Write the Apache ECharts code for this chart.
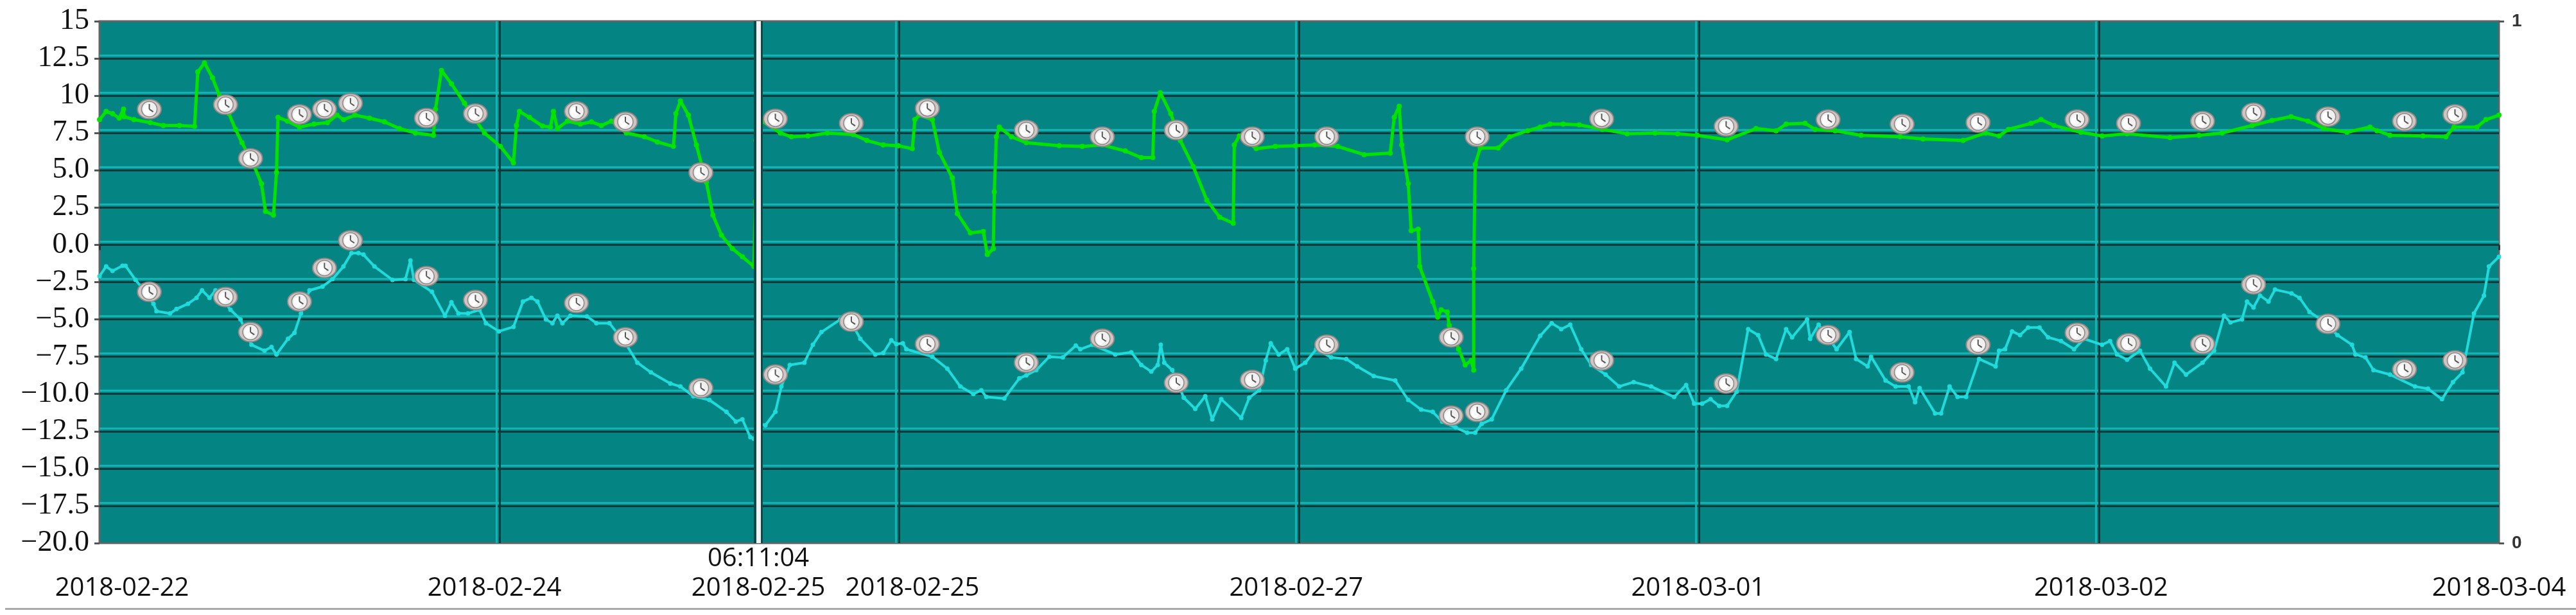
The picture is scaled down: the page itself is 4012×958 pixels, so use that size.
<!DOCTYPE html>
<html><head><meta charset="utf-8">
<style>html,body{margin:0;padding:0;background:#fff}#c{width:4012px;height:958px}</style>
<script src="https://cdn.jsdelivr.net/npm/echarts@6/dist/echarts.min.js"></script>
</head><body><div id="c"></div>
<script>
// x values are hours since the left edge of the chart (about 2018-02-22 12:20)
const greenPoints=[[0,8.4],[0.66,8.95],[1.3,8.8],[1.97,8.5],[2.4,9.1],[2.46,8.6],[3.44,8.4],[5.08,8.2],[6.4,8],[8,8],[9.5,7.95],[9.83,11.6],[10.5,12.2],[11.3,11.2],[12,10],[12.94,8.8],[13.6,7.75],[14.25,6.85],[15.4,5.4],[16.2,4.1],[16.6,2.25],[17.4,2],[17.7,4.85],[17.85,8.55],[18.8,8.3],[20,7.9],[21.45,8.1],[22.8,8.2],[23.75,8.7],[24.4,8.4],[25.55,8.7],[27,8.5],[28.5,8.25],[30,7.8],[31.6,7.5],[33.4,7.35],[33.6,9.1],[34.2,11.7],[35.2,10.8],[36.5,9.5],[38.5,7.5],[40.1,6.6],[41.4,5.5],[41.7,8],[42,8.95],[43,8.55],[44.3,7.97],[45.1,7.9],[45.4,8.95],[45.8,7.8],[46.8,8.3],[48.1,8.1],[49.2,8.25],[50.2,8],[51.2,8.3],[52.7,7.5],[54.5,7.25],[55.8,6.9],[57.4,6.6],[57.65,8.8],[58.1,9.65],[58.9,8.7],[59.7,6.7],[60.7,4.2],[61.35,2],[62.2,0.65],[63.3,-0.25],[64.3,-0.8],[65.45,-1.45],[65.6,2.9],[65.65,7],[66.3,8.3],[68.1,7.5],[69.2,7.25],[70.85,7.3],[72.8,7.5],[75.4,7.4],[76.75,7],[78.4,6.7],[79.9,6.65],[81.3,6.45],[81.55,8.4],[82,8.7],[83.3,8.4],[84,6.2],[85.3,4.5],[85.8,2.1],[87.1,0.8],[88.4,0.9],[88.8,-0.65],[89.4,-0.25],[89.5,3.55],[89.7,7.25],[90,7.9],[91.2,7.25],[92.7,6.85],[96,6.65],[98.3,6.6],[100.3,6.7],[102.6,6.3],[104.2,5.85],[105.35,5.85],[105.5,8.95],[106.1,10.2],[107.15,8.8],[108.1,7],[109.4,5.25],[110.75,3],[112.05,1.85],[113.4,1.45],[113.5,6.7],[114,7.3],[115.7,6.45],[117.6,6.6],[119.6,6.65],[121.55,6.7],[123.85,6.6],[126.5,6.05],[129.1,6.15],[129.5,8.55],[130,9.3],[130.25,6.7],[130.9,4.1],[131.2,0.95],[131.9,1.05],[132.05,-1.45],[133.35,-3.8],[133.85,-4.85],[134.2,-4.35],[134.8,-4.5],[135,-5.4],[135.95,-7],[136.6,-8.05],[137.2,-7.75],[137.45,-8.4],[137.45,-1.6],[137.6,5.4],[138.1,6.5],[139.9,6.5],[141.05,7.25],[142.85,7.65],[144.1,7.9],[145.1,8.1],[146.4,8.1],[148,8.05],[150.3,7.75],[152.8,7.45],[155.6,7.5],[157.85,7.45],[159.8,7.35],[162.8,7.05],[165.7,7.8],[167.7,7.65],[168.7,8.1],[170.6,8.15],[171.6,7.75],[173.6,7.65],[176.2,7.35],[180.1,7.25],[182.4,7.1],[186.4,7],[188.65,7.5],[190,7.3],[190.95,7.75],[193.2,8.15],[194.2,8.4],[195.5,8],[198.2,7.55],[200.3,7.3],[202.8,7.45],[207.1,7.2],[210,7.35],[212.3,7.5],[215.3,8],[217.3,8.35],[219.2,8.6],[220.9,8.3],[222.5,7.8],[224.8,7.55],[227.1,7.9],[227.8,7.65],[229.1,7.35],[232.4,7.3],[234.7,7.25],[235.5,7.9],[237.8,7.9],[238.7,8.4],[240,8.7]];
const cyanPoints=[[0,-2.1],[0.66,-1.45],[1.3,-1.75],[2.3,-1.4],[2.6,-1.4],[3.6,-2.35],[4.4,-3],[5.4,-3.95],[5.7,-4.45],[7.05,-4.6],[7.7,-4.3],[8.85,-3.95],[9.7,-3.55],[10.25,-3.05],[11,-3.55],[11.6,-3.05],[13.1,-4.35],[14.1,-5],[15.2,-6.7],[16.5,-7.1],[17.2,-6.85],[17.7,-7.35],[18.85,-6.3],[19.5,-5.9],[20.15,-4.6],[21,-3.05],[22.3,-2.8],[23.3,-2.3],[24.4,-1.45],[25.2,-0.55],[25.9,-0.55],[26.4,-0.65],[27.5,-1.45],[29.3,-2.35],[30.6,-2.3],[31.1,-1.05],[31.45,-2.35],[33.25,-3.15],[34.55,-4.75],[35.2,-3.85],[35.9,-4.6],[36.85,-4.6],[38,-4.35],[38.65,-5.25],[39.95,-5.8],[41.4,-5.5],[42.35,-3.8],[43.2,-3.55],[43.8,-3.8],[44.65,-5],[45.3,-5.25],[45.8,-4.75],[46.3,-5.25],[47.1,-4.75],[48.75,-4.8],[49.7,-5.25],[51,-5.25],[52.7,-6.7],[53.8,-7.9],[55.15,-8.55],[57.1,-9.3],[58.1,-9.5],[59.4,-10.15],[61,-10.4],[62.7,-11.2],[63.65,-11.85],[64.3,-11.7],[65.1,-12.9],[65.45,-13],[66.1,-12],[66.6,-12.1],[67.6,-11.2],[68.2,-9.5],[69.05,-8.05],[70.5,-7.9],[71.35,-6.7],[72.2,-5.85],[74.1,-5],[75.1,-5.1],[76.1,-6.3],[77.6,-7.35],[78.4,-7.25],[79.2,-6.4],[79.7,-6.65],[80.35,-6.6],[80.7,-7],[83.3,-7.5],[84.8,-8.3],[86.1,-9.5],[87.4,-10],[88.2,-9.75],[88.7,-10.2],[90.5,-10.3],[92,-8.95],[92.7,-8.75],[93.7,-8.4],[95,-7.5],[96.35,-7.55],[97.65,-6.75],[98.1,-7],[99.3,-6.7],[101.6,-7.35],[103.2,-7.2],[104.2,-8.05],[105.2,-8.5],[105.85,-8.05],[106.15,-6.7],[106.5,-7.9],[107.3,-8.4],[108.45,-10.25],[109.6,-11],[110.6,-10.15],[111.3,-11.7],[112.2,-10.35],[114.2,-11.6],[115,-10.25],[116,-9.75],[116.65,-7.75],[117.15,-6.6],[117.95,-7.35],[118.8,-7],[119.6,-8.3],[120.6,-7.9],[121.7,-7],[123.2,-7.55],[124.7,-7.65],[125.8,-8.15],[127.45,-8.8],[129.6,-9.1],[130.9,-10.4],[132.2,-11.05],[133.35,-11.2],[134.3,-11.85],[135.65,-12.25],[136.8,-12.6],[137.6,-12.6],[138.25,-12],[139.25,-11.7],[140.7,-9.75],[142.2,-8.3],[144.1,-6.1],[145.25,-5.25],[146.2,-5.65],[147.1,-5.35],[148.2,-7],[149.2,-8.05],[150.65,-8.7],[152,-9.5],[153.45,-9.2],[155.2,-9.5],[157.5,-10.2],[158.7,-9.4],[159.5,-10.65],[160.3,-10.65],[161.15,-10.35],[162,-10.8],[162.8,-10.8],[163.75,-9.85],[164.9,-5.65],[165.9,-6.05],[166.7,-7.35],[167.7,-7.65],[168.7,-5.65],[169.3,-6.2],[170.8,-5],[171.1,-6.3],[171.95,-5.35],[173.75,-7],[175.05,-5.85],[175.7,-7.65],[176.85,-8.15],[177.2,-7.5],[178.65,-9.1],[179.65,-9.5],[180.95,-9.5],[181.6,-10.55],[182.05,-9.6],[183.6,-11.3],[184.2,-11.3],[185.05,-9.5],[185.85,-10.2],[186.7,-10.2],[188,-7.65],[189.65,-8.15],[190,-7.1],[190.6,-7],[191.3,-5.8],[192.1,-6.05],[192.9,-5.55],[194.05,-5.55],[194.9,-6.2],[196.2,-6.45],[197.5,-7],[198.5,-6.3],[200.3,-6.7],[201.1,-6.45],[201.8,-7.35],[202.8,-7.7],[204.1,-7.1],[205.1,-8.3],[206.7,-9.5],[207.55,-7.9],[208.7,-8.7],[210.35,-7.9],[211.5,-7.1],[212.5,-4.75],[213.15,-5.2],[214.3,-5],[214.8,-3.8],[215.45,-4.2],[216.1,-3.4],[216.95,-3.8],[217.6,-3],[219.25,-3.25],[220.05,-3.55],[221.05,-4.5],[222.2,-5],[223.85,-6.05],[225.3,-6.7],[225.65,-7.35],[226.65,-7.55],[227.45,-8.4],[229.1,-8.7],[231.6,-9.5],[232.9,-9.65],[234.3,-10.35],[235.4,-9.2],[236.35,-8.55],[237.5,-4.6],[238.5,-3.4],[239,-1.45],[240,-0.8]];
const greenMarkers=[[4.98,9.1],[12.6,9.4],[15.1,5.8],[20,8.75],[22.5,9.1],[25.1,9.5],[32.7,8.5],[37.6,8.8],[47.7,8.95],[52.6,8.25],[60.15,4.85],[67.6,8.45],[75.2,8.15],[82.8,9.15],[92.7,7.7],[100.3,7.25],[107.7,7.7],[115.3,7.25],[122.75,7.25],[137.8,7.25],[150.25,8.45],[162.7,7.95],[172.9,8.4],[180.3,8.1],[187.9,8.2],[197.8,8.4],[202.95,8.15],[210.35,8.3],[215.45,8.85],[222.9,8.6],[230.55,8.3],[235.6,8.75]];
const cyanMarkers=[[4.98,-3.15],[12.6,-3.5],[15.1,-5.85],[20,-3.8],[22.5,-1.55],[25.1,0.3],[32.7,-2.1],[37.6,-3.7],[47.7,-3.9],[52.6,-6.2],[60.15,-9.6],[67.6,-8.7],[75.2,-5.15],[82.8,-6.65],[92.7,-7.9],[100.3,-6.3],[107.7,-9.25],[115.3,-9.05],[122.75,-6.7],[135.2,-6.2],[135.2,-11.45],[137.8,-11.2],[150.25,-7.75],[162.7,-9.3],[172.9,-6.05],[180.3,-8.55],[187.9,-6.7],[197.8,-5.9],[202.95,-6.6],[210.35,-6.65],[215.45,-2.65],[222.9,-5.3],[230.55,-8.35],[235.6,-7.75]];
const xLabelHours=[2.25,39.5,65.9,81.3,119.7,159.9,200.2,240];
const xLabels=['2018-02-22','2018-02-24','06:11:04\n2018-02-25','2018-02-25','2018-02-27','2018-03-01','2018-03-02','2018-03-04'];
const yLabels=['\u221220.0','\u221217.5','\u221215.0','\u221212.5','\u221210.0','\u22127.5','\u22125.0','\u22122.5','0.0','2.5','5.0','7.5','10','12.5','15'];
const cursorHour=65.9;

const DARK='#0a3c3d', CYAN='#17b4b4';
const chart=echarts.init(document.getElementById('c'),null,{renderer:'canvas'});
function eye(params,api){
  const p=api.coord([api.value(0),api.value(1)]);
  const x=p[0],y=p[1];
  const st=(f,s,w)=>({fill:f,stroke:s||null,lineWidth:w||0});
  return {type:'group',children:[
    {type:'ellipse',shape:{cx:x,cy:y,rx:18.5,ry:15},style:st('#cfc6c4','#8f8886',2)},
    {type:'ellipse',shape:{cx:x,cy:y,rx:12,ry:12},style:st('#f0f0f0','#8a8686',1.5)},
    {type:'ellipse',shape:{cx:x-3,cy:y+1,rx:6,ry:8},style:st('#ffffff')},
    {type:'line',shape:{x1:x,y1:y,x2:x,y2:y-8},style:{stroke:'#555',lineWidth:2}},
    {type:'line',shape:{x1:x,y1:y,x2:x+6,y2:y+4},style:{stroke:'#555',lineWidth:2}}
  ]};
}
const lineSeries=(name,data,color,lw,sym)=>({name,type:'line',data,xAxisIndex:0,yAxisIndex:0,z:3,
  lineStyle:{color,width:lw},itemStyle:{color},symbol:'circle',symbolSize:sym,showAllSymbol:true,smooth:false,silent:true,clip:false});
const markerSeries=(name,data)=>({name,type:'custom',data,xAxisIndex:0,yAxisIndex:0,z:5,renderItem:eye,encode:{x:0,y:1},silent:true,clip:false});
chart.setOption({
  animation:false,
  backgroundColor:'#fff',
  grid:{left:155,right:120,top:33,height:813,show:true,backgroundColor:'#058484',borderColor:'#5f6464',borderWidth:3},
  xAxis:{type:'value',min:0,max:240,interval:40,
    axisLine:{show:false},
    axisTick:{show:true,length:8,lineStyle:{color:'#333',width:3}},
    splitLine:{show:true,showMinLine:false,showMaxLine:false,lineStyle:{color:DARK,width:3,shadowColor:CYAN,shadowOffsetX:-5,shadowBlur:1}},
    axisLabel:{customValues:xLabelHours,margin:94,verticalAlign:'bottom',
      fontFamily:'Open Sans',fontSize:40,fontWeight:500,lineHeight:46,color:'#111',align:'center',
      formatter:v=>{const i=xLabelHours.indexOf(v);return i>=0?xLabels[i]:'';}}
  },
  yAxis:[
    {type:'value',min:-20,max:15,interval:2.5,
      axisLine:{show:false},
      axisTick:{show:true,length:8,lineStyle:{color:'#555',width:3}},
      splitLine:{show:true,showMinLine:false,showMaxLine:false,lineStyle:{color:DARK,width:3,shadowColor:CYAN,shadowOffsetY:-5,shadowBlur:1}},
      axisLabel:{margin:16,fontFamily:'Liberation Serif',fontSize:46,color:'#111',
        formatter:(v,i)=>yLabels[Math.round((v+20)/2.5)]}},
    {type:'value',min:0,max:1,interval:1,position:'right',
      axisLine:{show:false},
      axisTick:{show:true,length:8,lineStyle:{color:'#555',width:3}},
      splitLine:{show:false},
      axisLabel:{margin:20,fontFamily:'Liberation Sans',fontSize:28,fontWeight:'bold',color:'#333'}}
  ],
  graphic:[{type:'rect',left:8,top:947,shape:{width:4004,height:3},style:{fill:'#a8a8a8'},silent:true}],
  series:[
    lineSeries('Upper',greenPoints,'#00e400',5,8),
    lineSeries('Lower',cyanPoints,'#1fdcdc',4,7),
    markerSeries('Upper events',greenMarkers),
    markerSeries('Lower events',cyanMarkers),
    {name:'Cursor',type:'line',data:[],xAxisIndex:0,yAxisIndex:0,z:6,silent:true,
      markLine:{silent:true,symbol:'none',animation:false,label:{show:false},
        data:[
          {xAxis:cursorHour,lineStyle:{color:'#0b4a4b',width:14,type:'solid'}},
          {xAxis:cursorHour,lineStyle:{color:'#f4f2f2',width:7,type:'solid'}}
        ]}}
  ]
});
</script></body></html>
